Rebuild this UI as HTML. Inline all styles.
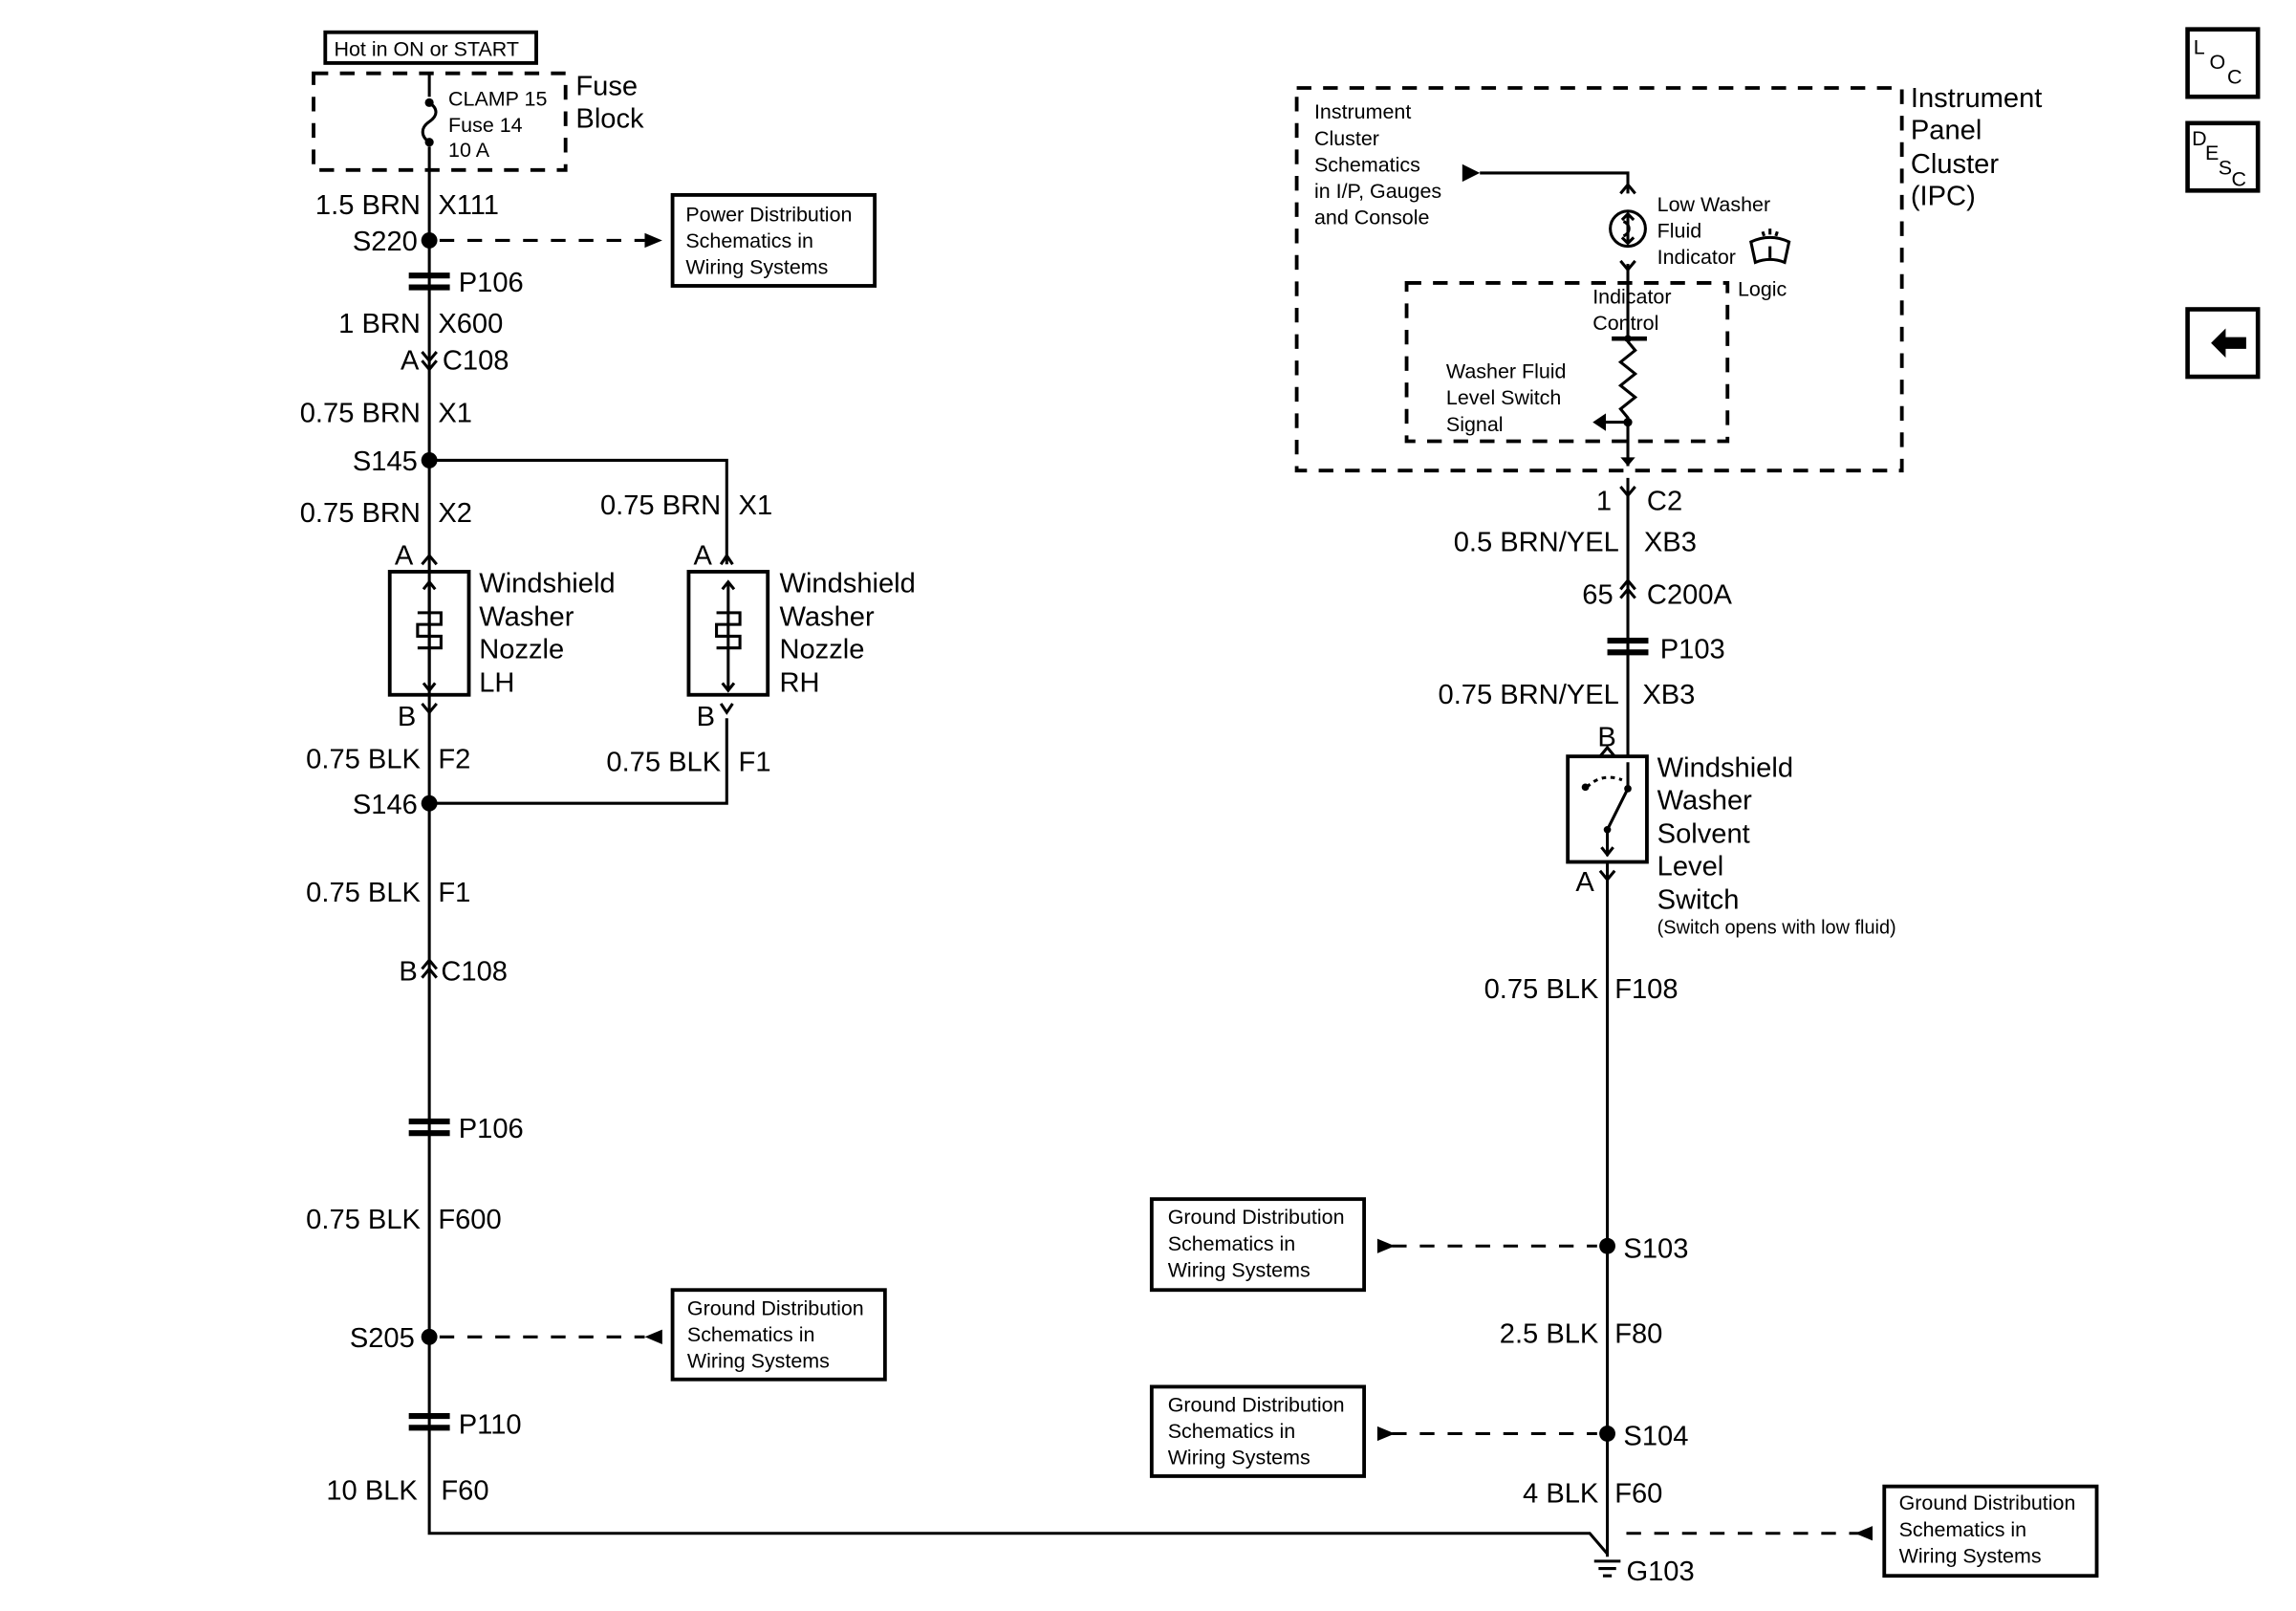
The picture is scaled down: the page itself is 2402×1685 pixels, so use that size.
<!DOCTYPE html>
<html><head><meta charset="utf-8"><style>
html,body{margin:0;padding:0;background:#fff}
svg{display:block}
text{font-family:"Liberation Sans",sans-serif;fill:#000}
.l{font-size:19px}
.s{font-size:14px}
.e{text-anchor:end}
</style></head><body>
<svg width="2402" height="1685" viewBox="0 0 1567 1099" preserveAspectRatio="none" xmlns="http://www.w3.org/2000/svg">
<g stroke="#000" stroke-width="2" fill="none">
<path d="M293 50V66M293 100V1046H1085L1097 1060"/>
<path d="M293 70c6 4 6 9 0 13c-6 4-6 10 0 14"/>
<rect x="222" y="22" width="144" height="21" stroke-width="2.5"/>
<rect x="214" y="50" width="172" height="66" stroke-dasharray="10,8" stroke-width="2.5"/>
<path d="M300 164H440" stroke-dasharray="10,9"/>
<rect x="459" y="133" width="138" height="62" stroke-width="2.5"/>
<path d="M293 314H496V385M293 548H496V490"/>
<rect x="266" y="390" width="54" height="84" stroke-width="2.5"/>
<rect x="470" y="390" width="54" height="84" stroke-width="2.5"/>
<path d="M300 912H440" stroke-dasharray="10,9"/>
<rect x="459" y="880" width="145" height="61" stroke-width="2.5"/>
<rect x="885" y="60" width="413" height="261" stroke-dasharray="10,8" stroke-width="2.5"/>
<rect x="960" y="193" width="219" height="108" stroke-dasharray="10,8" stroke-width="2.5"/>
<path d="M1010 118H1111V132M1111 180V230M1111 233l5 6-10 8 10 8-10 8 10 8-10 8 5 6V318M1111 326V516"/>
<circle cx="1111" cy="156" r="12"/>
<path d="M1111 146V166M1107 150l4-4 4 4M1107 162l4 4 4-4M1108 151c5 2 5 8 0 10"/>
<path d="M1100 231H1124" stroke-width="3"/>
<path d="M1111 288H1095"/>
<rect x="1070" y="516" width="54" height="72" stroke-width="2.5"/>
<path d="M1097 588V1062"/>
<path d="M950 850H1090M950 978H1090" stroke-dasharray="10,9"/>
<rect x="786" y="818" width="145" height="62" stroke-width="2.5"/>
<rect x="786" y="946" width="145" height="61" stroke-width="2.5"/>
<path d="M1110 1046H1270" stroke-dasharray="10,9"/>
<rect x="1286" y="1014" width="145" height="61" stroke-width="2.5"/>
<rect x="1493" y="20" width="48" height="46" stroke-width="3"/>
<rect x="1493" y="84" width="48" height="46" stroke-width="3"/>
<rect x="1493" y="211" width="48" height="46" stroke-width="3"/>
<path d="M288 240l5 6 5-6M288 246l5 6 5-6"/>
<path d="M288 385l5-6 5 6M492 385l4-6 4 6"/>
<path d="M288 480l5 6 5-6M492 480l4 6 4-6"/>
<path d="M288 661l5-6 5 6M288 667l5-6 5 6"/>
<path d="M1106 132l5-6 5 6M1106 178l5 6 5-6"/>
<path d="M1106 332l5 6 5-6M1111 338V348"/>
<path d="M1106 402l5-6 5 6M1106 408l5-6 5 6"/>
<path d="M1092 516l5-6 5 6M1092 594l5 6 5-6"/>
<path d="M293 398V470M289 402l4-5 4 5M289 466l4 5 4-5M285 418h16v8h-16v8h16v8h-16"/>
<path d="M497 398V470M493 402l4-5 4 5M493 466l4 5 4-5M489 418h16v8h-16v8h16v8h-16"/>
<path d="M1111 520V538L1097 566V584M1093 578l4 5 4-5" />
<path d="M1083 537q10-10 24-5" stroke-dasharray="3,3"/>
<path d="M1088 1065H1106M1091 1070H1103M1094 1075H1100"/>
<path d="M1195 165q13-6 26 0l-3 14q-10-4-20 0z"/>
<path d="M1208 168v8M1203 158l1 3M1213 158l-1 3M1208 156v4"/>
</g>
<g fill="#000">
<circle cx="293" cy="70" r="3"/><circle cx="293" cy="97" r="3"/>
<circle cx="293" cy="164" r="5.5"/><circle cx="293" cy="314" r="5.5"/><circle cx="293" cy="548" r="5.5"/><circle cx="293" cy="912" r="5.5"/>
<circle cx="1097" cy="850" r="5.5"/><circle cx="1097" cy="978" r="5.5"/>
<circle cx="1111" cy="288" r="3"/><circle cx="1111" cy="231" r="2.5"/>
<circle cx="1082" cy="537" r="2.5"/><circle cx="1111" cy="538" r="2.5"/><circle cx="1097" cy="566" r="2.5"/>
<path d="M440 159l12 5-12 5z"/>
<path d="M452 907l-12 5 12 5z"/>
<path d="M940 845l12 5-12 5z"/>
<path d="M940 973l12 5-12 5z"/>
<path d="M1278 1041l-12 5 12 5z"/>
<path d="M998 112l12 6-12 6z"/>
<path d="M1087 288l9-6v12z"/>
<path d="M1106 312l5 6 5-6z"/>
<path d="M1509 234l10-10v6h14v8h-14v6z"/>
<path d="M279 186h28v4h-28zM279 194h28v4h-28zM279 763h28v4h-28zM279 771h28v4h-28zM279 964h28v4h-28zM279 972h28v4h-28zM1097 435h28v4h-28zM1097 443h28v4h-28z"/>
</g>
<text class="s" x="228" y="38">Hot in ON or START</text>
<text class="s" x="306" y="72">CLAMP 15</text><text class="s" x="306" y="90">Fuse 14</text><text class="s" x="306" y="107">10 A</text>
<text class="l" x="393" y="65">Fuse</text><text class="l" x="393" y="87">Block</text>
<text class="l e" x="287" y="146">1.5 BRN</text><text class="l" x="299" y="146">X111</text>
<text class="l e" x="285" y="171">S220</text>
<text class="s" x="468" y="151">Power Distribution</text><text class="s" x="468" y="169">Schematics in</text><text class="s" x="468" y="187">Wiring Systems</text>
<text class="l" x="313" y="199">P106</text>
<text class="l e" x="287" y="227">1 BRN</text><text class="l" x="299" y="227">X600</text>
<text class="l e" x="286" y="252">A</text><text class="l" x="302" y="252">C108</text>
<text class="l e" x="287" y="288">0.75 BRN</text><text class="l" x="299" y="288">X1</text>
<text class="l e" x="285" y="321">S145</text>
<text class="l e" x="287" y="356">0.75 BRN</text><text class="l" x="299" y="356">X2</text>
<text class="l e" x="492" y="351">0.75 BRN</text><text class="l" x="504" y="351">X1</text>
<text class="l e" x="282" y="385">A</text><text class="l e" x="486" y="385">A</text>
<text class="l" x="327" y="404">Windshield</text><text class="l" x="327" y="427">Washer</text><text class="l" x="327" y="449">Nozzle</text><text class="l" x="327" y="472">LH</text>
<text class="l" x="532" y="404">Windshield</text><text class="l" x="532" y="427">Washer</text><text class="l" x="532" y="449">Nozzle</text><text class="l" x="532" y="472">RH</text>
<text class="l e" x="284" y="495">B</text><text class="l e" x="488" y="495">B</text>
<text class="l e" x="287" y="524">0.75 BLK</text><text class="l" x="299" y="524">F2</text>
<text class="l e" x="492" y="526">0.75 BLK</text><text class="l" x="504" y="526">F1</text>
<text class="l e" x="285" y="555">S146</text>
<text class="l e" x="287" y="615">0.75 BLK</text><text class="l" x="299" y="615">F1</text>
<text class="l e" x="285" y="669">B</text><text class="l" x="301" y="669">C108</text>
<text class="l" x="313" y="776">P106</text>
<text class="l e" x="287" y="838">0.75 BLK</text><text class="l" x="299" y="838">F600</text>
<text class="l e" x="283" y="919">S205</text>
<text class="s" x="469" y="897">Ground Distribution</text><text class="s" x="469" y="915">Schematics in</text><text class="s" x="469" y="933">Wiring Systems</text>
<text class="l" x="313" y="978">P110</text>
<text class="l e" x="285" y="1023">10 BLK</text><text class="l" x="301" y="1023">F60</text>
<text class="s" x="897" y="81">Instrument</text><text class="s" x="897" y="99">Cluster</text><text class="s" x="897" y="117">Schematics</text><text class="s" x="897" y="135">in I/P, Gauges</text><text class="s" x="897" y="153">and Console</text>
<text class="l" x="1304" y="73">Instrument</text><text class="l" x="1304" y="95">Panel</text><text class="l" x="1304" y="118">Cluster</text><text class="l" x="1304" y="140">(IPC)</text>
<text class="s" x="1131" y="144">Low Washer</text><text class="s" x="1131" y="162">Fluid</text><text class="s" x="1131" y="180">Indicator</text>
<text class="s" x="1186" y="202">Logic</text>
<text class="s" x="1087" y="207">Indicator</text><text class="s" x="1087" y="225">Control</text>
<text class="s" x="987" y="258">Washer Fluid</text><text class="s" x="987" y="276">Level Switch</text><text class="s" x="987" y="294">Signal</text>
<text class="l e" x="1100" y="348">1</text><text class="l" x="1124" y="348">C2</text>
<text class="l e" x="1105" y="376">0.5 BRN/YEL</text><text class="l" x="1122" y="376">XB3</text>
<text class="l e" x="1101" y="412">65</text><text class="l" x="1124" y="412">C200A</text>
<text class="l" x="1133" y="449">P103</text>
<text class="l e" x="1105" y="480">0.75 BRN/YEL</text><text class="l" x="1121" y="480">XB3</text>
<text class="l e" x="1103" y="509">B</text>
<text class="l" x="1131" y="530">Windshield</text><text class="l" x="1131" y="552">Washer</text><text class="l" x="1131" y="575">Solvent</text><text class="l" x="1131" y="597">Level</text><text class="l" x="1131" y="620">Switch</text>
<text class="s" x="1131" y="637" style="font-size:13px">(Switch opens with low fluid)</text>
<text class="l e" x="1088" y="608">A</text>
<text class="l e" x="1091" y="681">0.75 BLK</text><text class="l" x="1102" y="681">F108</text>
<text class="s" x="797" y="835">Ground Distribution</text><text class="s" x="797" y="853">Schematics in</text><text class="s" x="797" y="871">Wiring Systems</text>
<text class="l" x="1108" y="858">S103</text>
<text class="l e" x="1091" y="916">2.5 BLK</text><text class="l" x="1102" y="916">F80</text>
<text class="s" x="797" y="963">Ground Distribution</text><text class="s" x="797" y="981">Schematics in</text><text class="s" x="797" y="999">Wiring Systems</text>
<text class="l" x="1108" y="986">S104</text>
<text class="l e" x="1091" y="1025">4 BLK</text><text class="l" x="1102" y="1025">F60</text>
<text class="s" x="1296" y="1030">Ground Distribution</text><text class="s" x="1296" y="1048">Schematics in</text><text class="s" x="1296" y="1066">Wiring Systems</text>
<text class="l" x="1110" y="1078">G103</text>
<text style="font-size:14px" x="1497" y="37">L</text><text style="font-size:14px" x="1508" y="47">O</text><text style="font-size:14px" x="1520" y="57">C</text>
<text style="font-size:14px" x="1496" y="99">D</text><text style="font-size:14px" x="1505" y="109">E</text><text style="font-size:14px" x="1514" y="119">S</text><text style="font-size:14px" x="1523" y="127">C</text>
</svg>
</body></html>
